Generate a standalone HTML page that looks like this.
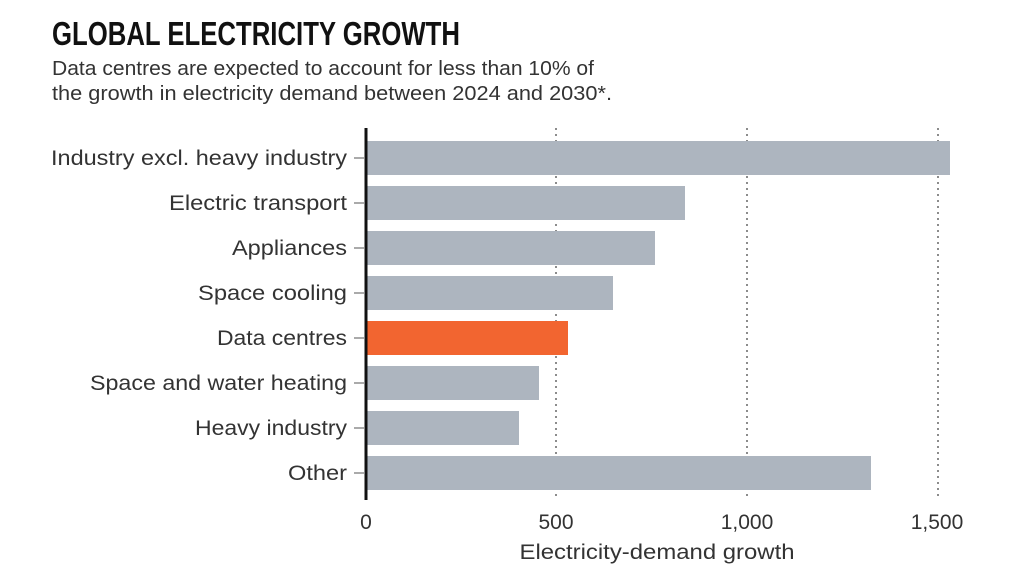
<!DOCTYPE html>
<html><head><meta charset="utf-8"><style>
html,body{margin:0;padding:0;background:#fff;}
svg{display:block;}
text{font-family:"Liberation Sans",sans-serif;}
</style></head><body>
<svg width="1024" height="576" viewBox="0 0 1024 576" xmlns="http://www.w3.org/2000/svg">
<text x="52" y="45" font-size="33" font-weight="bold" fill="#111" textLength="408" lengthAdjust="spacingAndGlyphs" style="font-family:'Liberation Sans Narrow','Liberation Sans',sans-serif">GLOBAL ELECTRICITY GROWTH</text>
<text x="52" y="75" font-size="20" fill="#333" textLength="542" lengthAdjust="spacingAndGlyphs">Data centres are expected to account for less than 10% of</text>
<text x="52" y="100" font-size="20" fill="#333" textLength="560" lengthAdjust="spacingAndGlyphs">the growth in electricity demand between 2024 and 2030*.</text>
<g stroke="#666" stroke-width="1.5" stroke-dasharray="2,4">
<line x1="556" y1="128" x2="556" y2="500"/>
<line x1="747" y1="128" x2="747" y2="500"/>
<line x1="938" y1="128" x2="938" y2="500"/>
</g>
<g fill="#adb5bf">
<rect x="366" y="141" width="584" height="34"/>
<rect x="366" y="186" width="319" height="34"/>
<rect x="366" y="231" width="289" height="34"/>
<rect x="366" y="276" width="247" height="34"/>
<rect x="366" y="366" width="173" height="34"/>
<rect x="366" y="411" width="153" height="34"/>
<rect x="366" y="456" width="505" height="34"/>
</g>
<rect x="366" y="321" width="202" height="34" fill="#f26530"/>
<line x1="366" y1="128" x2="366" y2="500" stroke="#111" stroke-width="3"/>
<g stroke="#555" stroke-width="1">
<line x1="354" y1="158" x2="364" y2="158"/><line x1="354" y1="203" x2="364" y2="203"/>
<line x1="354" y1="248" x2="364" y2="248"/><line x1="354" y1="293" x2="364" y2="293"/>
<line x1="354" y1="338" x2="364" y2="338"/><line x1="354" y1="383" x2="364" y2="383"/>
<line x1="354" y1="428" x2="364" y2="428"/><line x1="354" y1="473" x2="364" y2="473"/>
</g>
<g font-size="21" fill="#333" text-anchor="end" lengthAdjust="spacingAndGlyphs">
<text x="347" y="165" textLength="296" lengthAdjust="spacingAndGlyphs">Industry excl. heavy industry</text>
<text x="347" y="210" textLength="178" lengthAdjust="spacingAndGlyphs">Electric transport</text>
<text x="347" y="255" textLength="115" lengthAdjust="spacingAndGlyphs">Appliances</text>
<text x="347" y="300" textLength="149" lengthAdjust="spacingAndGlyphs">Space cooling</text>
<text x="347" y="345" textLength="130" lengthAdjust="spacingAndGlyphs">Data centres</text>
<text x="347" y="390" textLength="257" lengthAdjust="spacingAndGlyphs">Space and water heating</text>
<text x="347" y="435" textLength="152" lengthAdjust="spacingAndGlyphs">Heavy industry</text>
<text x="347" y="480" textLength="59" lengthAdjust="spacingAndGlyphs">Other</text>
</g>
<g font-size="21" fill="#333" text-anchor="middle">
<text x="366" y="529">0</text>
<text x="556" y="529">500</text>
<text x="747" y="529">1,000</text>
<text x="937" y="529">1,500</text>
<text x="657" y="559" textLength="275" lengthAdjust="spacingAndGlyphs">Electricity-demand growth</text>
</g>
</svg>
</body></html>
